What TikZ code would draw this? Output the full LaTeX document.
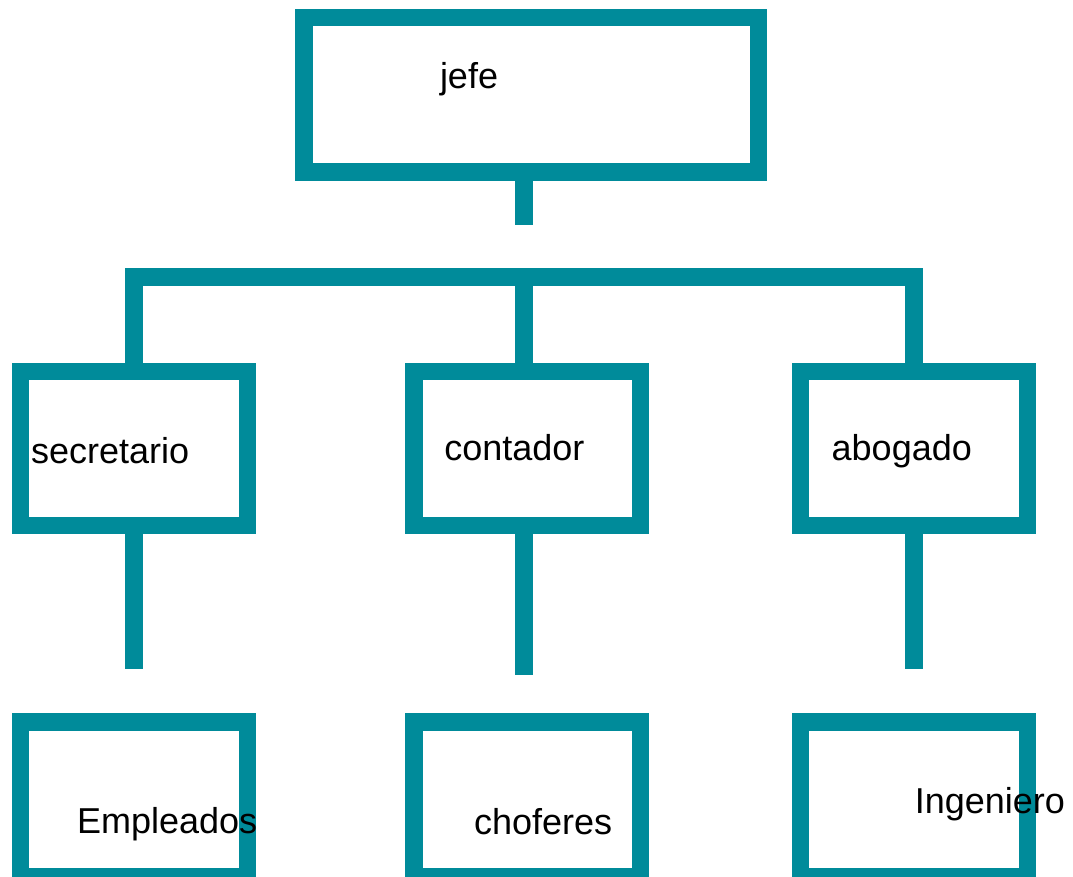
\documentclass[tikz,border=0pt]{standalone}
\usepackage{fontspec}
\setmainfont{Liberation Sans}
\definecolor{teal1}{RGB}{0,139,154}
\begin{document}
\begin{tikzpicture}[x=1pt,y=-1pt,
  box/.style={draw=teal1,line width=17.5pt,fill=none,rectangle,inner sep=0pt,outer sep=0pt,
    minimum width=226.8pt,minimum height=154.1pt},
  link/.style={draw=teal1,line width=17.5pt,line cap=butt,line join=miter},
  lbl/.style={anchor=base west,inner sep=0pt,outer sep=0pt,text=black,
    font=\fontsize{36}{42}\selectfont}]
\useasboundingbox (0,0) rectangle (1073,877);
% boxes
\node[box,minimum width=454.5pt,minimum height=154.5pt] (jefe) at (531.3,95) {};
\node[box] (sec) at (133.85,448.5) {};
\node[box] (con) at (527.15,448.5) {};
\node[box] (abo) at (913.85,448.5) {};
\node[box,minimum height=154.5pt] (emp) at (133.85,799.25) {};
\node[box,minimum height=154.5pt] (cho) at (527.15,799.25) {};
\node[box,minimum height=154.5pt] (ing) at (913.85,799.25) {};
% connector coordinates
\coordinate (stubend) at (523.85,225);
\coordinate (busL) at (133.85,277);
\coordinate (busM) at (523.85,277);
\coordinate (busR) at (913.85,277);
\coordinate (endL) at (133.85,669.3);
\coordinate (endM) at (523.85,675);
\coordinate (endR) at (913.85,669.3);
% connectors
\draw[link] (stubend |- jefe.south) -- (stubend);
\draw[link] (sec.north) -- (busL) -- (busR) -- (abo.north);
\draw[link] (busM) -- (busM |- con.north);
\draw[link] (sec.south) -- (endL);
\draw[link] (endM |- con.south) -- (endM);
\draw[link] (abo.south) -- (endR);
% texts
\node[lbl] (tjefe) at (440,89) {jefe};
\node[lbl] (tsec) at (31,463.3) {secretario};
\node[lbl] (tcon) at (444.3,460) {contador};
\node[lbl] (tabo) at (831.7,460) {abogado};
\node[lbl] (temp) at (77,833.3) {Empleados};
\node[lbl] (tcho) at (474,834.3) {choferes};
\node[lbl] (ting) at (914.8,813.3) {Ingeniero};
\end{tikzpicture}
\end{document}
